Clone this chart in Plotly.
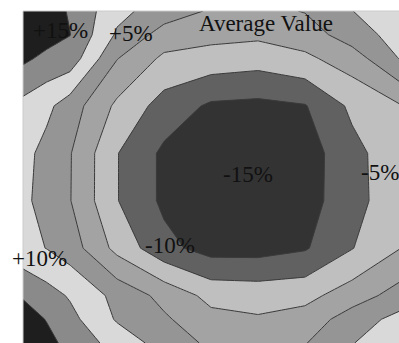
import plotly.graph_objects as go

# Grid positions (column / row index, slightly refined near the left edge and bottom)
x_cols = [0, 0.5, 1, 2, 3, 4, 5, 6, 7, 8]
y_rows = [0, 0.5, 1, 2, 3, 4, 5, 6, 6.5, 7]

# Estimated percentage deviation from the average value at each grid node
z_values = [
    [20, 17.5, 14.5, 6.5, 2.5, -0.5, -1.5, 0.25, 4.9, 9],
    [19, 17, 15.1, 4.3, -2, -3.5, -4, -2.5, 2.5, 7],
    [16, 13.8, 12.9, 0.2, -6, -7, -7.85, -6, -2.5, 5.1],
    [8.5, 6.2, 2.5, -6, -12, -15.8, -16.3, -15.3, -9, -5.5],
    [6.5, 3.5, 0.3, -9.8, -16, -18, -18.5, -17.5, -11.5, -7],
    [6.0, 3.3, 0.2, -9.8, -16, -18.25, -18.5, -17, -12, -6.5],
    [6.5, 4.9, 2.5, -6.5, -13.5, -17, -17, -15.5, -10.2, -5.2],
    [14.5, 12, 9.5, 3.5, -1.5, -6.5, -7, -6.5, -2.5, 2],
    [17.5, 14.8, 11.5, 4.5, 0.75, -3.5, -4.5, -3, 2.5, 6.5],
    [20, 16.5, 13.5, 8, 3, -1, -2, -0.25, 4.75, 9],
]

label_texts = ["+15%", "+5%", "Average Value", "-15%", "-5%", "+10%", "-10%"]
label_px = [(60, 31), (131, 34), (266, 23), (248, 174), (380, 172), (39, 258), (170, 245)]

band_colors = ['#333333', '#616161', '#bfbfbf', '#a3a3a3',
               '#959595', '#d9d9d9', '#8a8a8a', '#1e1e1e']

W, H = 399, 343
L_M, T_M = 23, 11
PW, PH = W - L_M, H - T_M

colorscale = []
n = len(band_colors)
for i, c in enumerate(band_colors):
    colorscale.append([i / n, c])
    colorscale.append([(i + 1) / n, c])

fig = go.Figure(go.Contour(
    x=x_cols, y=y_rows, z=z_values,
    zmin=-20, zmax=20, zauto=False,
    colorscale=colorscale, showscale=False,
    contours=dict(start=-15, end=15, size=5, coloring='fill', showlines=True),
    line=dict(color='#3a3a3a', width=1, smoothing=0),
    hoverinfo='skip',
))

for t, (px, py) in zip(label_texts, label_px):
    fig.add_annotation(
        x=(px - L_M) / PW, y=1 - (py - T_M) / PH, xref='paper', yref='paper',
        text=t, showarrow=False, xanchor='center', yanchor='middle',
        font=dict(family='Liberation Serif', size=23, color='#111111'),
    )

fig.add_shape(type='line', xref='paper', yref='paper', x0=0, x1=0, y0=0, y1=1,
              line=dict(color='#cccccc', width=1))
fig.add_shape(type='line', xref='paper', yref='paper', x0=0, x1=1, y0=1, y1=1,
              line=dict(color='#cccccc', width=1))

fig.update_xaxes(range=[0, 8], visible=False, showgrid=False, zeroline=False)
fig.update_yaxes(range=[7, 0], visible=False, showgrid=False, zeroline=False)
fig.update_layout(
    width=W, height=H, margin=dict(l=L_M, r=0, t=T_M, b=0, pad=0),
    paper_bgcolor='white', plot_bgcolor='white', showlegend=False,
)
fig.write_html("out.html")
